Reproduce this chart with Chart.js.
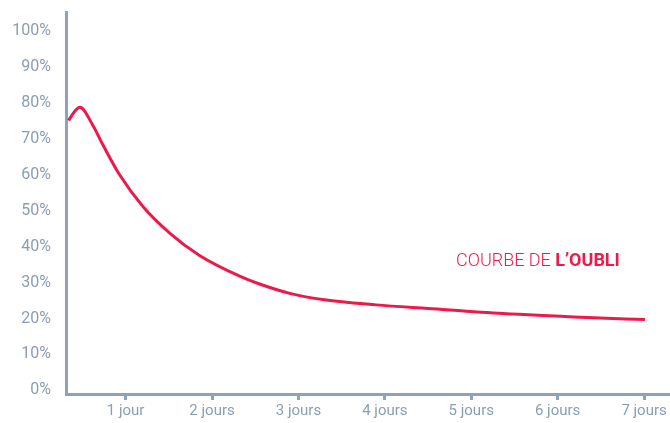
<!DOCTYPE html>
<html>
<head>
<meta charset="utf-8">
<script src="https://cdn.jsdelivr.net/npm/chart.js@4.4.1/dist/chart.umd.min.js"></script>
<style>
  html, body { margin: 0; padding: 0; background: #fff; }
  .chart { width: 670px; height: 423px; position: relative; }
</style>
</head>
<body>
<div class="chart"><canvas id="myChart"></canvas></div>
<script>
// courbe de l'oubli : jours écoulés -> % retenu
var days      = [0.34, 0.41, 0.47, 0.62, 0.74, 0.93, 1.20, 1.51, 1.86, 2.32, 2.55, 2.90, 3.30, 3.90, 4.50, 5.37, 6.34, 7.01];
var retention = [75.1, 77.6, 78.8, 73.8, 68.2, 60.0, 51.2, 43.8, 37.5, 31.8, 29.6, 27.0, 25.2, 23.8, 22.8, 21.4, 20.3, 19.7];

var dayTicks    = [1, 2, 3, 4, 5, 6, 7];
var dayLabels   = ['1 jour', '2 jours', '3 jours', '4 jours', '5 jours', '6 jours', '7 jours'];
var percentTicks = [0, 10, 20, 30, 40, 50, 60, 70, 80, 90, 100];

var axisColor = '#8ea3b7';
var textColor = '#8a9eb2';
var red = '#ec1a4b';

var titlePlugin = {
    id: 'courbeTitle',
    afterDatasetsDraw: function(chart){
        var ctx = chart.ctx;
        ctx.save();
        ctx.textBaseline = 'middle';
        ctx.fillStyle = red;
        ctx.font = '300 18px Roboto';
        var first = 'COURBE DE ';
        ctx.fillText(first, 456, 261);
        var w = ctx.measureText(first).width;
        ctx.font = 'bold 18px Roboto';
        ctx.fillText("L\u2019OUBLI", 456 + w, 261);
        ctx.restore();
    }
};

var ctx = document.getElementById('myChart').getContext('2d');
var myChart = new Chart(ctx, {
    type: 'line',
    data: {
        datasets: [{
            data: days.map(function(d, i){ return {x: d, y: retention[i]}; }),
            borderColor: red,
            borderWidth: 3,
            pointRadius: 0,
            fill: false,
            cubicInterpolationMode: 'monotone'
        }]
    },
    options: {
        responsive: true,
        maintainAspectRatio: false,
        animation: false,
        layout: { padding: { top: 12, right: 0, left: 0, bottom: 0 } },
        plugins: { legend: { display: false }, tooltip: { enabled: false } },
        scales: {
            x: {
                type: 'linear',
                min: 0.31,
                max: 7.3,
                afterBuildTicks: function(scale){
                    scale.ticks = dayTicks.map(function(v){ return {value: v}; });
                },
                afterFit: function(scale){ scale.height = 29; },
                grid: {
                    display: true,
                    drawOnChartArea: false,
                    drawTicks: true,
                    tickLength: 6,
                    lineWidth: 3,
                    color: axisColor
                },
                border: { display: true, color: axisColor, width: 3 },
                ticks: {
                    color: textColor,
                    font: { family: 'Roboto', size: 15 },
                    padding: 2,
                    maxRotation: 0,
                    autoSkip: false,
                    callback: function(v){ return dayLabels[dayTicks.indexOf(v)]; }
                }
            },
            y: {
                min: -1,
                max: 105.3,
                afterBuildTicks: function(scale){
                    scale.ticks = percentTicks.map(function(v){ return {value: v}; });
                },
                afterFit: function(scale){
                    scale.width = 66;
                    scale.paddingTop = 0;
                    scale.paddingBottom = 0;
                },
                grid: { display: false, drawTicks: false },
                border: { display: true, color: axisColor, width: 3 },
                ticks: {
                    color: textColor,
                    font: { family: 'Roboto', size: 16 },
                    padding: 15,
                    callback: function(v){ return v + '%'; }
                }
            }
        }
    },
    plugins: [titlePlugin]
});
</script>
</body>
</html>
